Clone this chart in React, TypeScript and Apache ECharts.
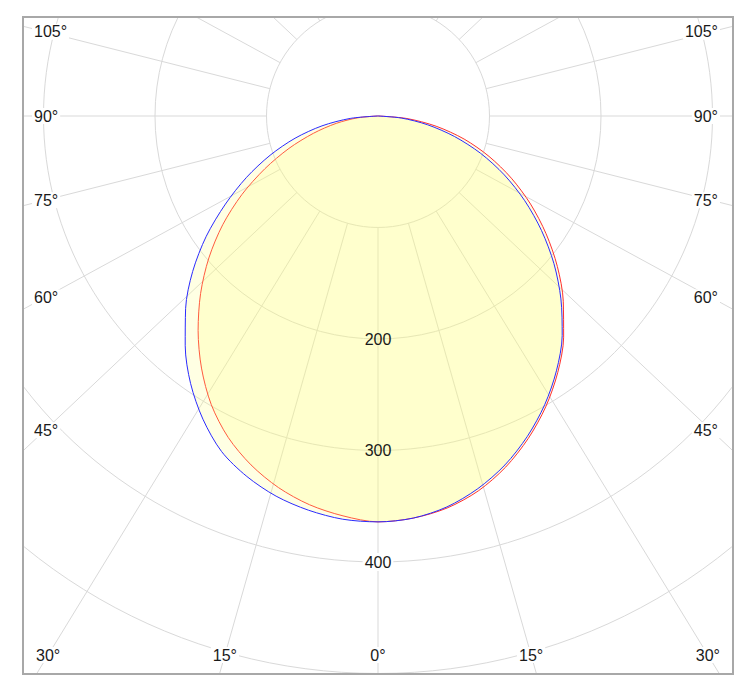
import React, { useEffect, useRef } from 'react';
import * as echarts from 'echarts';

// ---- data ----
// gamma angles (degrees from nadir) at which the intensities were read
const gammaAngles = [0, 5, 10, 15, 20, 25, 30, 35, 40, 45, 50, 55, 60, 65, 70, 75, 80, 85, 90];
// blue curve (left half / right half)
const blueLeft = [364, 363, 359, 353, 344, 332, 314, 293, 269, 244, 217, 188, 158, 130, 103, 77, 51, 25, 0];
const blueRight = [364, 362, 356, 346, 333, 317, 299, 279, 257, 232, 206, 179, 152, 125, 98, 71, 45, 21, 0];
// red curve (left half / right half)
const redLeft = [364, 360, 354, 345, 333, 318, 299, 276, 251, 225, 198, 170, 141, 112, 85, 60, 38, 18, 0];
const redRight = [364, 362, 357, 348, 335, 319, 301, 281, 259, 235, 210, 184, 158, 132, 106, 80, 53, 26, 0];

// radius axis: range, step and the tick labels that are printed
const radiusMax = 600;
const radiusStep = 100;
const radiusInnerGrid = 100;
const radiusLabels = ['200', '300', '400'];
// angle grid step and the angle tick labels printed on each side
const angleStep = 15;
const angleLabelValues = [0, 15, 30, 45, 60, 75, 90, 105];

// ---- layout / style ----
const FRAME = { left: 22, top: 16, width: 708, height: 655, border: 2 };
const CENTER = [354, 98];
const PX_PER_UNIT = 1.115;
const GRID_STRETCH = 1.06; // the reference's radial grid is slightly stretched horizontally
const FONT_FAMILY = '"Liberation Sans", Arial, sans-serif';
const FONT = `16px ${FONT_FAMILY}`;
const TEXT_COLOR = '#1a1a1a';
const GRID_COLOR = '#d9d9d9';
const FILL = 'rgba(255,255,125,0.3)';
const LABEL_EDGE_LEFT = 8;
const LABEL_EDGE_RIGHT = 696;
const LABEL_RAY_X = 21;
const LABEL_BOTTOM = 637;

function stretchAngle(a: number): number {
  const r = (a * Math.PI) / 180;
  let d = (Math.atan2(GRID_STRETCH * Math.sin(r), Math.cos(r)) * 180) / Math.PI;
  if (d < 0) d += 360;
  return d;
}

function buildCurve(left: number[], right: number[]) {
  const pts: number[][] = [];
  for (let i = gammaAngles.length - 1; i >= 0; i--) pts.push([left[i], gammaAngles[i]]);
  for (let i = 1; i < gammaAngles.length; i++) pts.push([right[i], 360 - gammaAngles[i]]);
  return pts;
}

function angleLabel(a: number, side: 'left' | 'right' | 'center') {
  const rad = (stretchAngle(a) * Math.PI) / 180;
  const sx = Math.sin(rad);
  const cy = Math.cos(rad);
  const halfW = CENTER[0] - LABEL_RAY_X;
  const down = LABEL_BOTTOM - CENTER[1];
  const tSide = sx > 1e-6 ? halfW / sx : Infinity;
  const tBot = cy > 1e-6 ? down / cy : Infinity;
  let x: number, y: number, align: string;
  if (tSide < tBot) {
    y = CENTER[1] + cy * tSide;
    x = side === 'left' ? LABEL_EDGE_LEFT : LABEL_EDGE_RIGHT;
    align = side;
  } else {
    const dir = side === 'left' ? -1 : side === 'right' ? 1 : 0;
    x = CENTER[0] + dir * sx * tBot;
    y = LABEL_BOTTOM;
    align = 'center';
  }
  return {
    type: 'text',
    x,
    y,
    z: 10,
    style: {
      text: `${a}°`,
      fill: TEXT_COLOR,
      font: FONT,
      align,
      textAlign: align,
      verticalAlign: 'middle',
      textVerticalAlign: 'middle',
      backgroundColor: '#ffffff',
      padding: [0, 2],
    },
  };
}

export default function App() {
  const ref = useRef<HTMLDivElement>(null);

  useEffect(() => {
    if (!ref.current) return;
    const chart = echarts.init(ref.current, null, { renderer: 'svg' });

    const gridAngles: number[] = [];
    for (let a = 0; a < 360; a += angleStep) gridAngles.push(stretchAngle(a));

    const labels: any[] = [];
    angleLabelValues.forEach((a) => {
      if (a === 0) labels.push(angleLabel(0, 'center'));
      else {
        labels.push(angleLabel(a, 'left'));
        labels.push(angleLabel(a, 'right'));
      }
    });

    const maxIntensity = Math.max(...blueLeft, ...blueRight, ...redLeft, ...redRight);
    const outerR = radiusMax * PX_PER_UNIT;
    const hiddenAngle = {
      type: 'value',
      min: 0,
      max: 360,
      interval: angleStep,
      startAngle: 270,
      clockwise: true,
      axisLine: { show: false },
      axisTick: { show: false },
      axisLabel: { show: false },
      splitLine: { show: false },
    };
    const hiddenRadius = {
      type: 'value',
      min: 0,
      max: radiusMax,
      interval: radiusStep,
      axisLine: { show: false },
      axisTick: { show: false },
      axisLabel: { show: false },
      splitLine: { show: false },
    };
    const labelText = {
      color: TEXT_COLOR,
      fontSize: 16,
      fontFamily: FONT_FAMILY,
      padding: [1, 2],
      align: 'center',
    };

    chart.setOption({
      animation: false,
      polar: [
        { center: [CENTER[0], CENTER[1]], radius: [0, outerR] },
        { center: [CENTER[0], CENTER[1]], radius: [radiusInnerGrid * PX_PER_UNIT, outerR] },
        { center: [CENTER[0], CENTER[1]], radius: [0, outerR] },
      ],
      angleAxis: [
        { ...hiddenAngle, polarIndex: 0 },
        {
          ...hiddenAngle,
          polarIndex: 1,
          axisTick: { show: false, customValues: gridAngles },
          splitLine: { show: true, lineStyle: { color: GRID_COLOR, width: 1 } },
        },
        { ...hiddenAngle, polarIndex: 2 },
      ],
      radiusAxis: [
        {
          ...hiddenRadius,
          polarIndex: 0,
          splitLine: { show: true, lineStyle: { color: GRID_COLOR, width: 1 } },
        },
        { ...hiddenRadius, polarIndex: 1, max: 1, interval: 1 },
        {
          ...hiddenRadius,
          polarIndex: 2,
          z: 10,
          axisLabel: {
            show: true,
            margin: 0,
            align: 'center',
            verticalAlign: 'middle',
            formatter: (v: number) =>
              radiusLabels.includes(String(v)) ? (v > maxIntensity ? `{w|${v}}` : `{b|${v}}`) : '',
            rich: {
              b: { ...labelText },
              w: { ...labelText, backgroundColor: '#ffffff' },
            },
          },
        },
      ],
      series: [
        {
          type: 'line',
          coordinateSystem: 'polar',
          polarIndex: 0,
          data: buildCurve(redLeft, redRight),
          symbol: 'none',
          smooth: 0.3,
          lineStyle: { color: '#ff3030', width: 1 },
          areaStyle: { color: FILL },
          z: 2,
        },
        {
          type: 'line',
          coordinateSystem: 'polar',
          polarIndex: 0,
          data: buildCurve(blueLeft, blueRight),
          symbol: 'none',
          smooth: 0.3,
          lineStyle: { color: '#2b2bff', width: 1 },
          areaStyle: { color: FILL },
          z: 3,
        },
      ],
      graphic: labels,
    });

    return () => chart.dispose();
  }, []);

  return (
    <div style={{ position: 'fixed', left: 0, top: 0, width: 750, height: 698, background: '#ffffff' }}>
      <div
        style={{
          position: 'absolute',
          left: FRAME.left,
          top: FRAME.top,
          width: FRAME.width,
          height: FRAME.height,
          border: `${FRAME.border}px solid #a8a8a8`,
          overflow: 'hidden',
          background: '#ffffff',
        }}
      >
        <div ref={ref} style={{ width: FRAME.width, height: FRAME.height }} />
      </div>
    </div>
  );
}
